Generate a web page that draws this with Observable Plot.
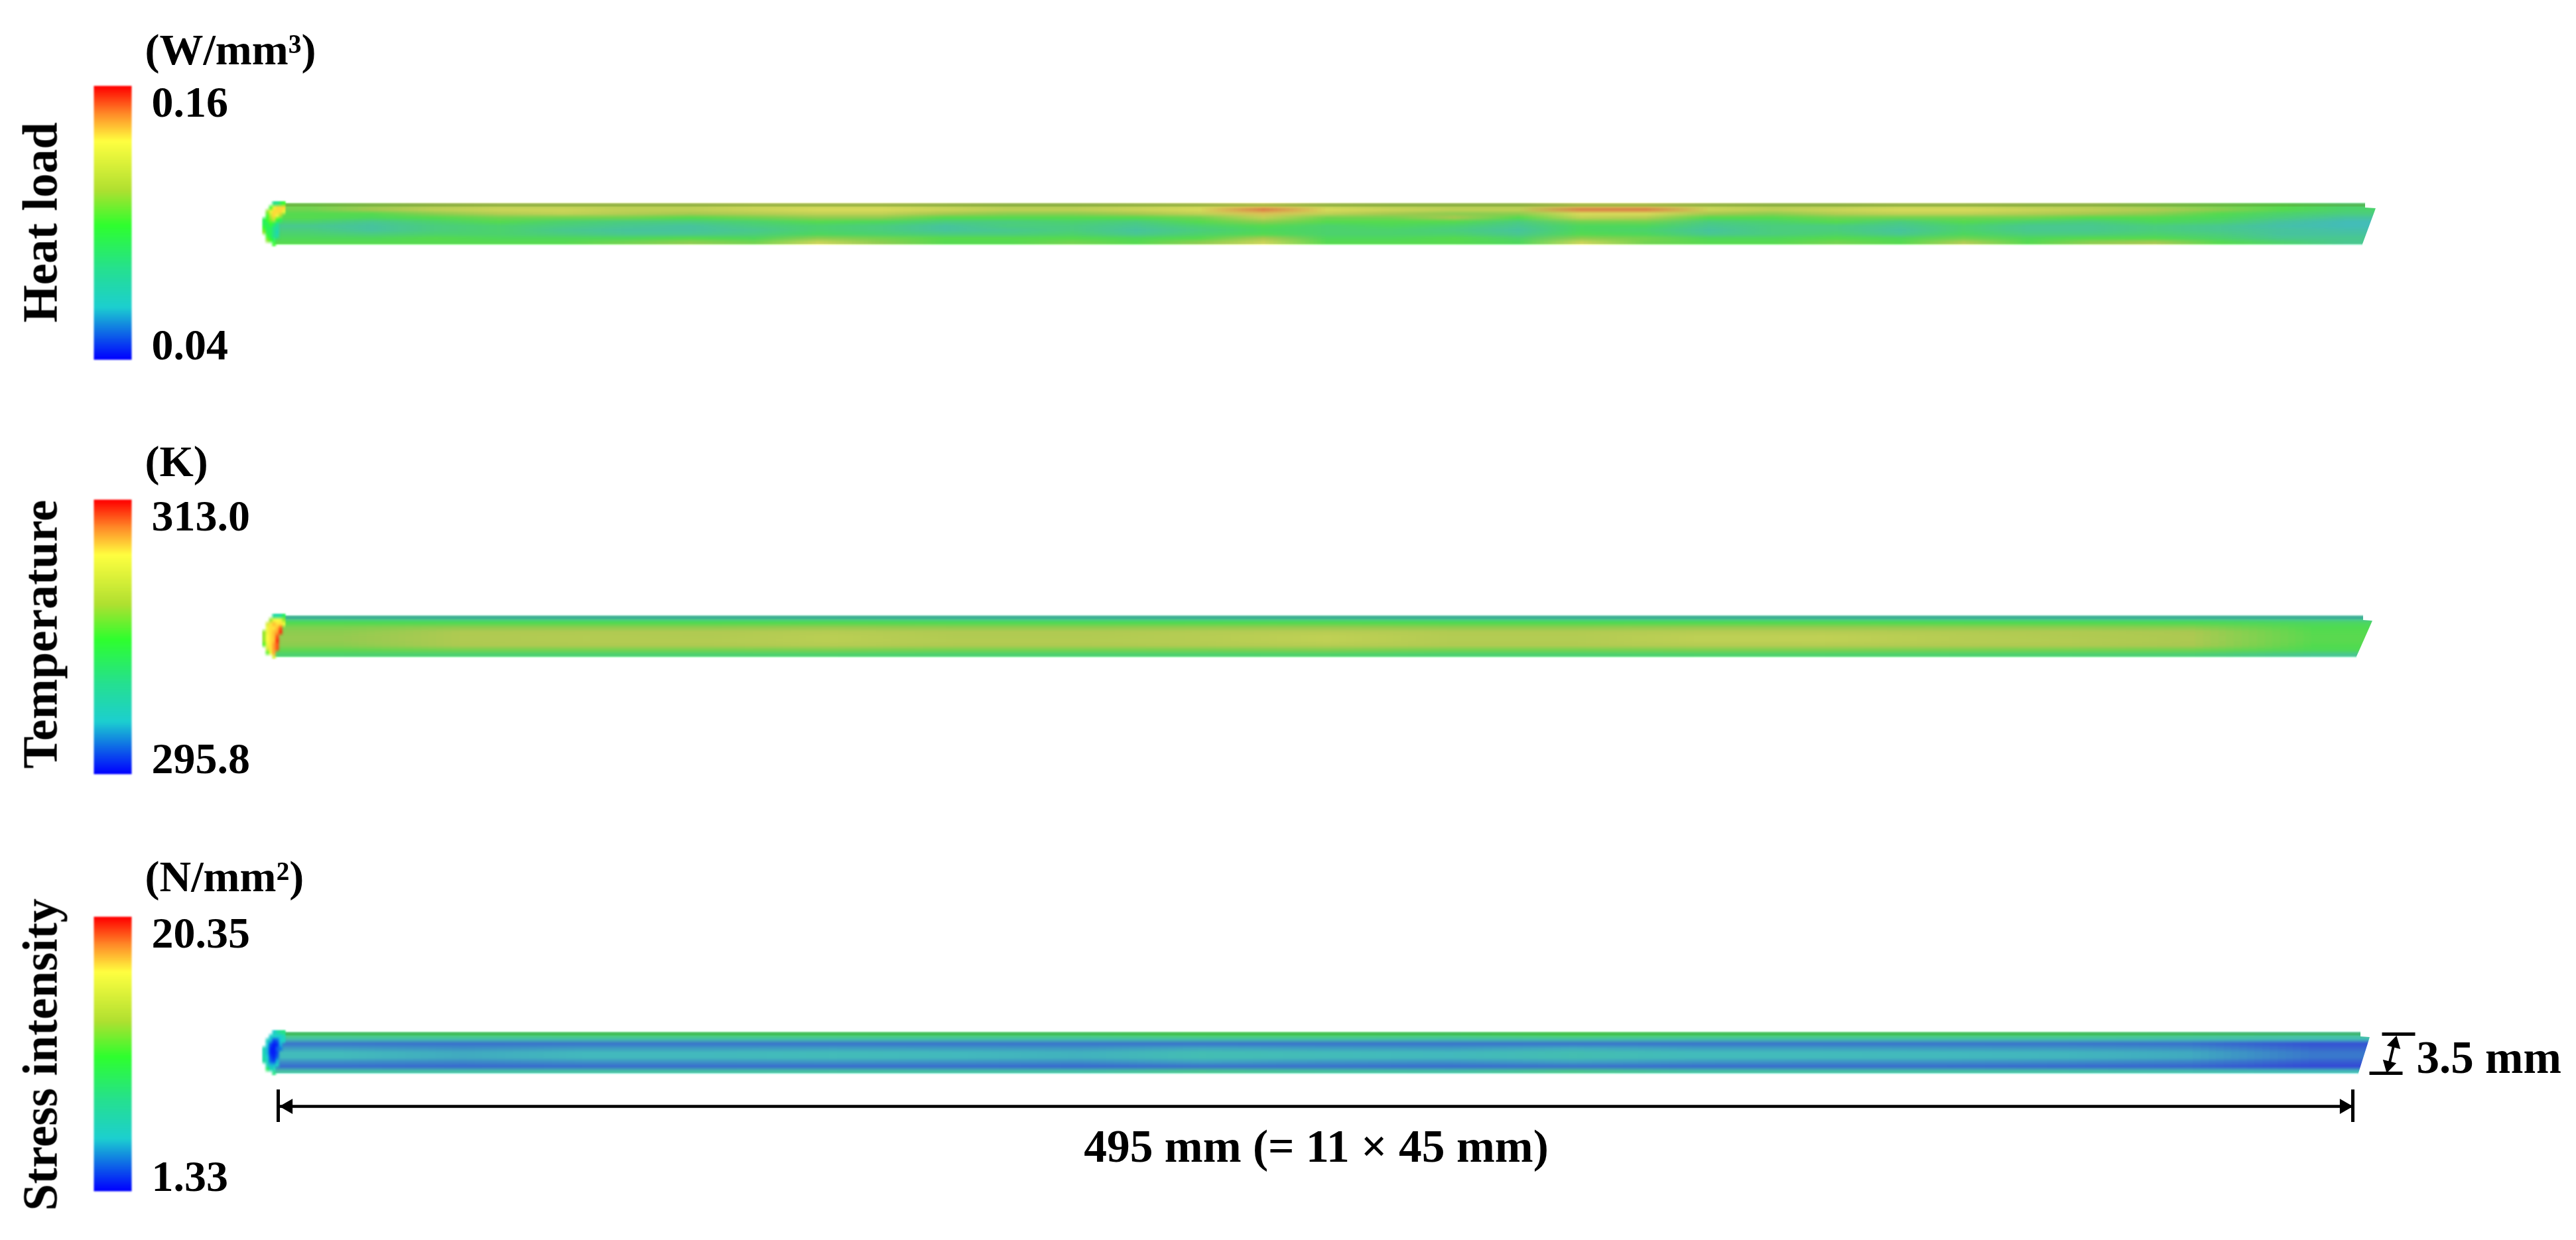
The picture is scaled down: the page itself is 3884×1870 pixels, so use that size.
<!DOCTYPE html>
<html><head><meta charset="utf-8">
<script src="https://cdn.jsdelivr.net/npm/d3@7"></script>
<script src="https://cdn.jsdelivr.net/npm/@observablehq/plot@0.6"></script>
<style>
html,body{margin:0;padding:0;background:#fff}
svg{display:block}
svg image{filter:blur(1.2px)}
svg text{filter:blur(.5px)}
</style></head><body><div id="chart"></div>
<script>
// ---- colour ramp of the three legends (position 0..1, colour)
const rampStops  = [0, .19, .33, .49, .62, .80, .90, 1];
const rampColors = ["#0000ff","#1ccfd0","#25e090","#2eff2e","#b0e030","#ffff40","#ff8a28","#ff0000"];

// ---- Heat load (W/mm3): 10 rows, top to bottom, 33 columns
const heat0=[.105,.11,.115,.12,.12,.12,.12,.125,.125,.125,.12,.115,.115,.12,.125,.135,.12,.115,.115,.115,.13,.13,.12,.115,.115,.12,.12,.115,.115,.11,.105,.10,.09];
const heat1=[.105,.115,.125,.13,.13,.125,.125,.13,.135,.135,.13,.125,.125,.13,.135,.15,.135,.13,.125,.125,.15,.15,.13,.125,.13,.135,.135,.13,.125,.12,.11,.10,.09];
const heat2=[.10,.10,.11,.12,.125,.12,.115,.12,.125,.125,.115,.11,.11,.115,.125,.14,.125,.115,.11,.11,.135,.135,.115,.11,.12,.125,.125,.12,.115,.11,.10,.09,.085];
const heat3=[.10,.095,.10,.105,.105,.105,.10,.105,.11,.11,.10,.10,.10,.10,.105,.125,.105,.105,.115,.10,.125,.12,.10,.10,.105,.105,.105,.105,.10,.10,.095,.085,.075];
const heat4=[.09,.08,.09,.10,.09,.085,.085,.09,.10,.095,.085,.085,.09,.085,.10,.11,.10,.10,.10,.085,.105,.105,.085,.09,.10,.085,.10,.09,.085,.095,.09,.075,.065];
const heat5=[.08,.075,.085,.09,.085,.08,.075,.085,.09,.085,.075,.085,.085,.08,.09,.10,.09,.095,.09,.08,.095,.095,.08,.085,.085,.08,.09,.08,.08,.085,.08,.07,.065];
const heat6=[.085,.075,.085,.09,.08,.075,.075,.08,.09,.085,.075,.08,.085,.075,.085,.095,.09,.09,.085,.075,.095,.09,.075,.085,.085,.075,.09,.08,.08,.085,.08,.075,.07];
const heat7=[.09,.085,.09,.09,.085,.08,.08,.085,.095,.09,.085,.085,.09,.08,.09,.10,.09,.09,.09,.08,.10,.095,.08,.085,.09,.08,.095,.085,.085,.09,.085,.075,.075];
const heat8=[.095,.095,.10,.095,.095,.095,.10,.095,.11,.105,.10,.10,.10,.095,.10,.115,.095,.095,.10,.09,.11,.105,.095,.095,.10,.095,.105,.095,.10,.10,.09,.08,.08];
const heat9=[.10,.10,.10,.10,.10,.105,.11,.105,.13,.11,.10,.10,.105,.10,.11,.13,.10,.10,.10,.095,.13,.105,.10,.10,.105,.10,.12,.10,.11,.115,.10,.09,.08];
const heatCap=[
 null,null,null,.08,.08,.09,.10,
 null,null,.10,.13,.14,.14,.14,
 null,.11,.13,.14,.14,.14,.13,
 null,.10,.12,.14,.13,.115,null,
 .09,.10,.11,.12,.10,.09,null,
 .09,.09,.10,.09,.08,null,null,
 .10,.09,.09,.08,.075,null,null,
 .11,.09,.09,.08,.07,null,null,
 null,.10,.09,.08,.075,null,null,
 null,.11,.10,.09,null,null,null,
 null,null,null,.10,null,null,null];

// ---- Temperature (K): 9 rows, 17 columns
const temp0=[300.9,300.8,300.8,300.8,300.9,300.7,300.7,300.8,300.9,300.7,300.7,300.8,300.8,300.7,300.7,300.7,300.6];
const temp1=[304.2,304.1,304.2,304.2,304.3,304.1,304.1,304.2,304.3,304.2,304.2,304.2,304.3,304.2,304.2,304.1,303.4];
const temp2=[305.4,305.8,305.8,305.8,306,305.8,305.8,305.9,306,305.8,305.8,306,306,305.9,305.8,305.6,304.1];
const temp3=[305.8,306.9,307,307,307.3,307,307,307.2,307.4,307.1,307.1,307.3,307.3,307.1,307,306.7,304.4];
const temp4=[306,307,307.2,307.1,307.6,307.1,307.1,307.4,307.9,307.2,307.2,307.8,307.9,307.4,307.1,306.8,304.5];
const temp5=[306,307,307.2,307.2,307.6,307.2,307.2,307.4,307.9,307.2,307.2,307.8,307.9,307.4,307.2,306.8,304.5];
const temp6=[305.7,306.8,306.9,306.9,307.2,306.9,306.9,307.1,307.3,307,307,307.2,307.2,307,306.9,306.6,304.3];
const temp7=[304.7,305.2,305.2,305.2,305.4,305.2,305.2,305.3,305.5,305.2,305.2,305.4,305.4,305.3,305.2,305.1,303.9];
const temp8=[302.9,302.8,302.8,302.8,303,302.8,302.8,302.9,303.1,302.8,302.8,303,303,302.9,302.8,302.6,301.4];
const tempCap=[
 null,null,null,301,300.5,301,303,
 null,null,306,309,309.5,309,306,
 null,308,310,310.5,310,310,309,
 null,309,310,310,310.5,312,null,
 306,309,310,310.5,311,312.5,null,
 306,309.5,310,310.5,312,null,null,
 306,309.5,310,310.5,312.5,null,null,
 305,309,310,311,312,null,null,
 null,308,310,311,312,null,null,
 null,305,309,311,null,null,null,
 null,null,null,308,null,null,null];

// ---- Stress intensity (N/mm2): 9 rows, 17 columns
const stress0=[8.8,9.2,9.4,9.4,9.5,9.4,9.3,10,9.9,9.4,10.2,9.5,9.4,9.4,9.2,8.4,7.4];
const stress1=[6,6,6.1,6.1,6.2,6.1,6,6.3,6.4,6.1,6.3,6.1,6.1,6,6,5.7,5.3];
const stress2=[3.1,3,3.1,3.1,3.1,3.1,3.1,3.1,3.1,3.1,3.1,3.1,3.1,3.1,3.1,3,2.2];
const stress3=[4.1,3.8,4.1,4.1,4.2,4.1,4,4.4,4.2,4.1,4.5,4.2,4.2,4.1,4,3.8,2.7];
const stress4=[5,4.5,4.9,4.9,5.1,4.9,4.7,5.5,5.1,4.9,5.6,5,5,4.9,4.8,4.5,3.2];
const stress5=[5,4.5,4.9,4.9,5.1,4.9,4.7,5.5,5.1,4.9,5.6,5,5,4.9,4.8,4.5,3.2];
const stress6=[3.8,3.6,3.9,3.9,4,3.9,3.8,4.3,4,3.9,4.3,4,3.9,3.9,3.8,3.5,2.5];
const stress7=[2.9,2.8,2.9,2.9,2.9,2.9,2.8,3,3,2.9,3,2.9,2.9,2.9,2.8,2.7,2];
const stress8=[6.4,6.3,6.4,6.4,6.6,6.4,6.3,7.6,6.8,6.4,7.8,6.5,6.4,6.4,6.3,5.9,5.3];
const stressCap=[
 null,null,null,5,6.5,7.5,8,
 null,null,5,5.5,5,5,6,
 null,5.5,4.5,2.5,3,5,5.5,
 null,5,2.5,1.8,2.2,4.5,null,
 6,4.5,2,1.8,3,3.5,null,
 6,4.5,2,1.8,2.6,null,null,
 6.5,5,2.5,2,3,null,null,
 7,5.5,3,2.5,4.5,null,null,
 null,6,4.5,4.5,5.5,null,null,
 null,9,6,6,null,null,null,
 null,null,null,8,null,null,null];

// ---- Labels
const panels = [
 {name:"Heat load", unit:"(W/mm³)", lo:0.04, hi:0.16, tickHi:"0.16", tickLo:"0.04",
  rows:[heat0,heat1,heat2,heat3,heat4,heat5,heat6,heat7,heat8,heat9], cap:heatCap,
  frame:[0,625], bar:[306,368], legend:[129,542], unitY:75, hiY:154, loY:520, nameY:335,
  edge:[3566,3582,3562], topLine:"#5f8a2c"},
 {name:"Temperature", unit:"(K)", lo:295.8, hi:313.0, tickHi:"313.0", tickLo:"295.8",
  rows:[temp0,temp1,temp2,temp3,temp4,temp5,temp6,temp7,temp8], cap:tempCap,
  frame:[625,1250], bar:[928,990], legend:[753,1167], unitY:696, hiY:778, loY:1144, nameY:956,
  edge:[3563,3577,3553], topLine:"#2f8f88"},
 {name:"Stress intensity", unit:"(N/mm²)", lo:1.33, hi:20.35, tickHi:"20.35", tickLo:"1.33",
  rows:[stress0,stress1,stress2,stress3,stress4,stress5,stress6,stress7,stress8], cap:stressCap,
  frame:[1250,1870], bar:[1556,1618], legend:[1382,1796], unitY:1322, hiY:1407, loY:1774, nameY:1590,
  edge:[3559,3573,3556], topLine:"#2f9f3a"}
];
const lengthLabel = "495 mm (= 11 × 45 mm)";
const widthLabel  = "3.5 mm";

const serif = {fontFamily:"'Liberation Serif'", fontWeight:"bold", fill:"#000"};
const ink = {stroke:"#000", strokeWidth:5};

function panelPlot(p, isLast){
  const [top,bottom] = p.bar;
  const left = 413, capLeft = 395, capRight = 430;
  const [topEnd, tip, bottomEnd] = p.edge;
  const w = p.rows[0].length, h = p.rows.length;
  const ramp = d3.range(240).map(i => p.hi - (p.hi - p.lo) * i / 239);
  const marks = [
    // legend bar
    Plot.raster(ramp, {fill:d=>d, width:1, height:240, x1:141, x2:198, y1:p.legend[0], y2:p.legend[1]}),
    Plot.text([p.unit],   {...serif, text:d=>d, x:218, y:p.unitY, fontSize:66, textAnchor:"start"}),
    Plot.text([p.tickHi], {...serif, text:d=>d, x:228, y:p.hiY, fontSize:66, textAnchor:"start"}),
    Plot.text([p.tickLo], {...serif, text:d=>d, x:228, y:p.loY, fontSize:66, textAnchor:"start"}),
    Plot.text([p.name],   {...serif, text:d=>d, x:62,  y:p.nameY, fontSize:73, rotate:-90}),
    // field along the bar, dulled by a translucent grey veil
    Plot.raster(p.rows.flat(), {fill:d=>d, width:w, height:h, x1:left, x2:tip, y1:top, y2:bottom}),
    Plot.rect([0], {x1:left, x2:tip, y1:top, y2:bottom, fill:"#949494", fillOpacity:.325}),
    Plot.ruleY([top+3], {x1:left+10, x2:topEnd, stroke:p.topLine, strokeWidth:4, strokeOpacity:.35}),
    // end cap
    Plot.raster(p.cap, {fill:d=>d, width:7, height:11, x1:capLeft, x2:capRight, y1:top-3, y2:bottom+3}),
    // slanted right end: white cut-away
    Plot.areaX([[top-6,topEnd],[top+7,topEnd],[top+8,tip],[bottom,bottomEnd],[bottom+6,bottomEnd]],
      {y:d=>d[0], x1:d=>d[1], x2:tip+14, fill:"#fff"})
  ];
  if (isLast) marks.push(
    // length dimension
    Plot.link([0], {x1:421, x2:3547, y1:1668, y2:1668, ...ink, strokeWidth:4.5}),
    Plot.ruleX([419], {y1:1643, y2:1692, ...ink}),
    Plot.ruleX([3547], {y1:1643, y2:1692, ...ink}),
    Plot.dot([0], {x:434, y:1668, symbol:"triangle2", r:11, rotate:-90, fill:"#000"}),
    Plot.dot([0], {x:3534, y:1668, symbol:"triangle2", r:11, rotate:90, fill:"#000"}),
    Plot.text([lengthLabel], {...serif, text:d=>d, x:1984, y:1729, fontSize:69.5}),
    // width dimension
    Plot.link([0], {x1:3591, x2:3641, y1:1559, y2:1559, ...ink}),
    Plot.link([0], {x1:3572, x2:3622, y1:1618, y2:1618, ...ink}),
    Plot.link([0], {x1:3611, x2:3600, y1:1566, y2:1612, ...ink, strokeWidth:4}),
    Plot.dot([0], {x:3610, y:1573, symbol:"triangle2", r:10, rotate:14, fill:"#000"}),
    Plot.dot([0], {x:3601, y:1606, symbol:"triangle2", r:10, rotate:194, fill:"#000"}),
    Plot.text([widthLabel], {...serif, text:d=>d, x:3643, y:1595, fontSize:69, textAnchor:"start"})
  );
  return Plot.plot({
    width:3884, height:p.frame[1]-p.frame[0],
    margin:0,
    x:{domain:[0,3884], range:[0,3884], axis:null},
    y:{domain:p.frame, range:[0,p.frame[1]-p.frame[0]], axis:null},
    color:{type:"linear", domain:rampStops.map(t=>p.lo+t*(p.hi-p.lo)), range:rampColors, interpolate:"rgb", clamp:true},
    style:{background:"transparent", overflow:"visible"},
    marks
  });
}
const host = document.getElementById("chart");
panels.forEach((p,i)=>host.append(panelPlot(p,i===panels.length-1)));
</script></body></html>
